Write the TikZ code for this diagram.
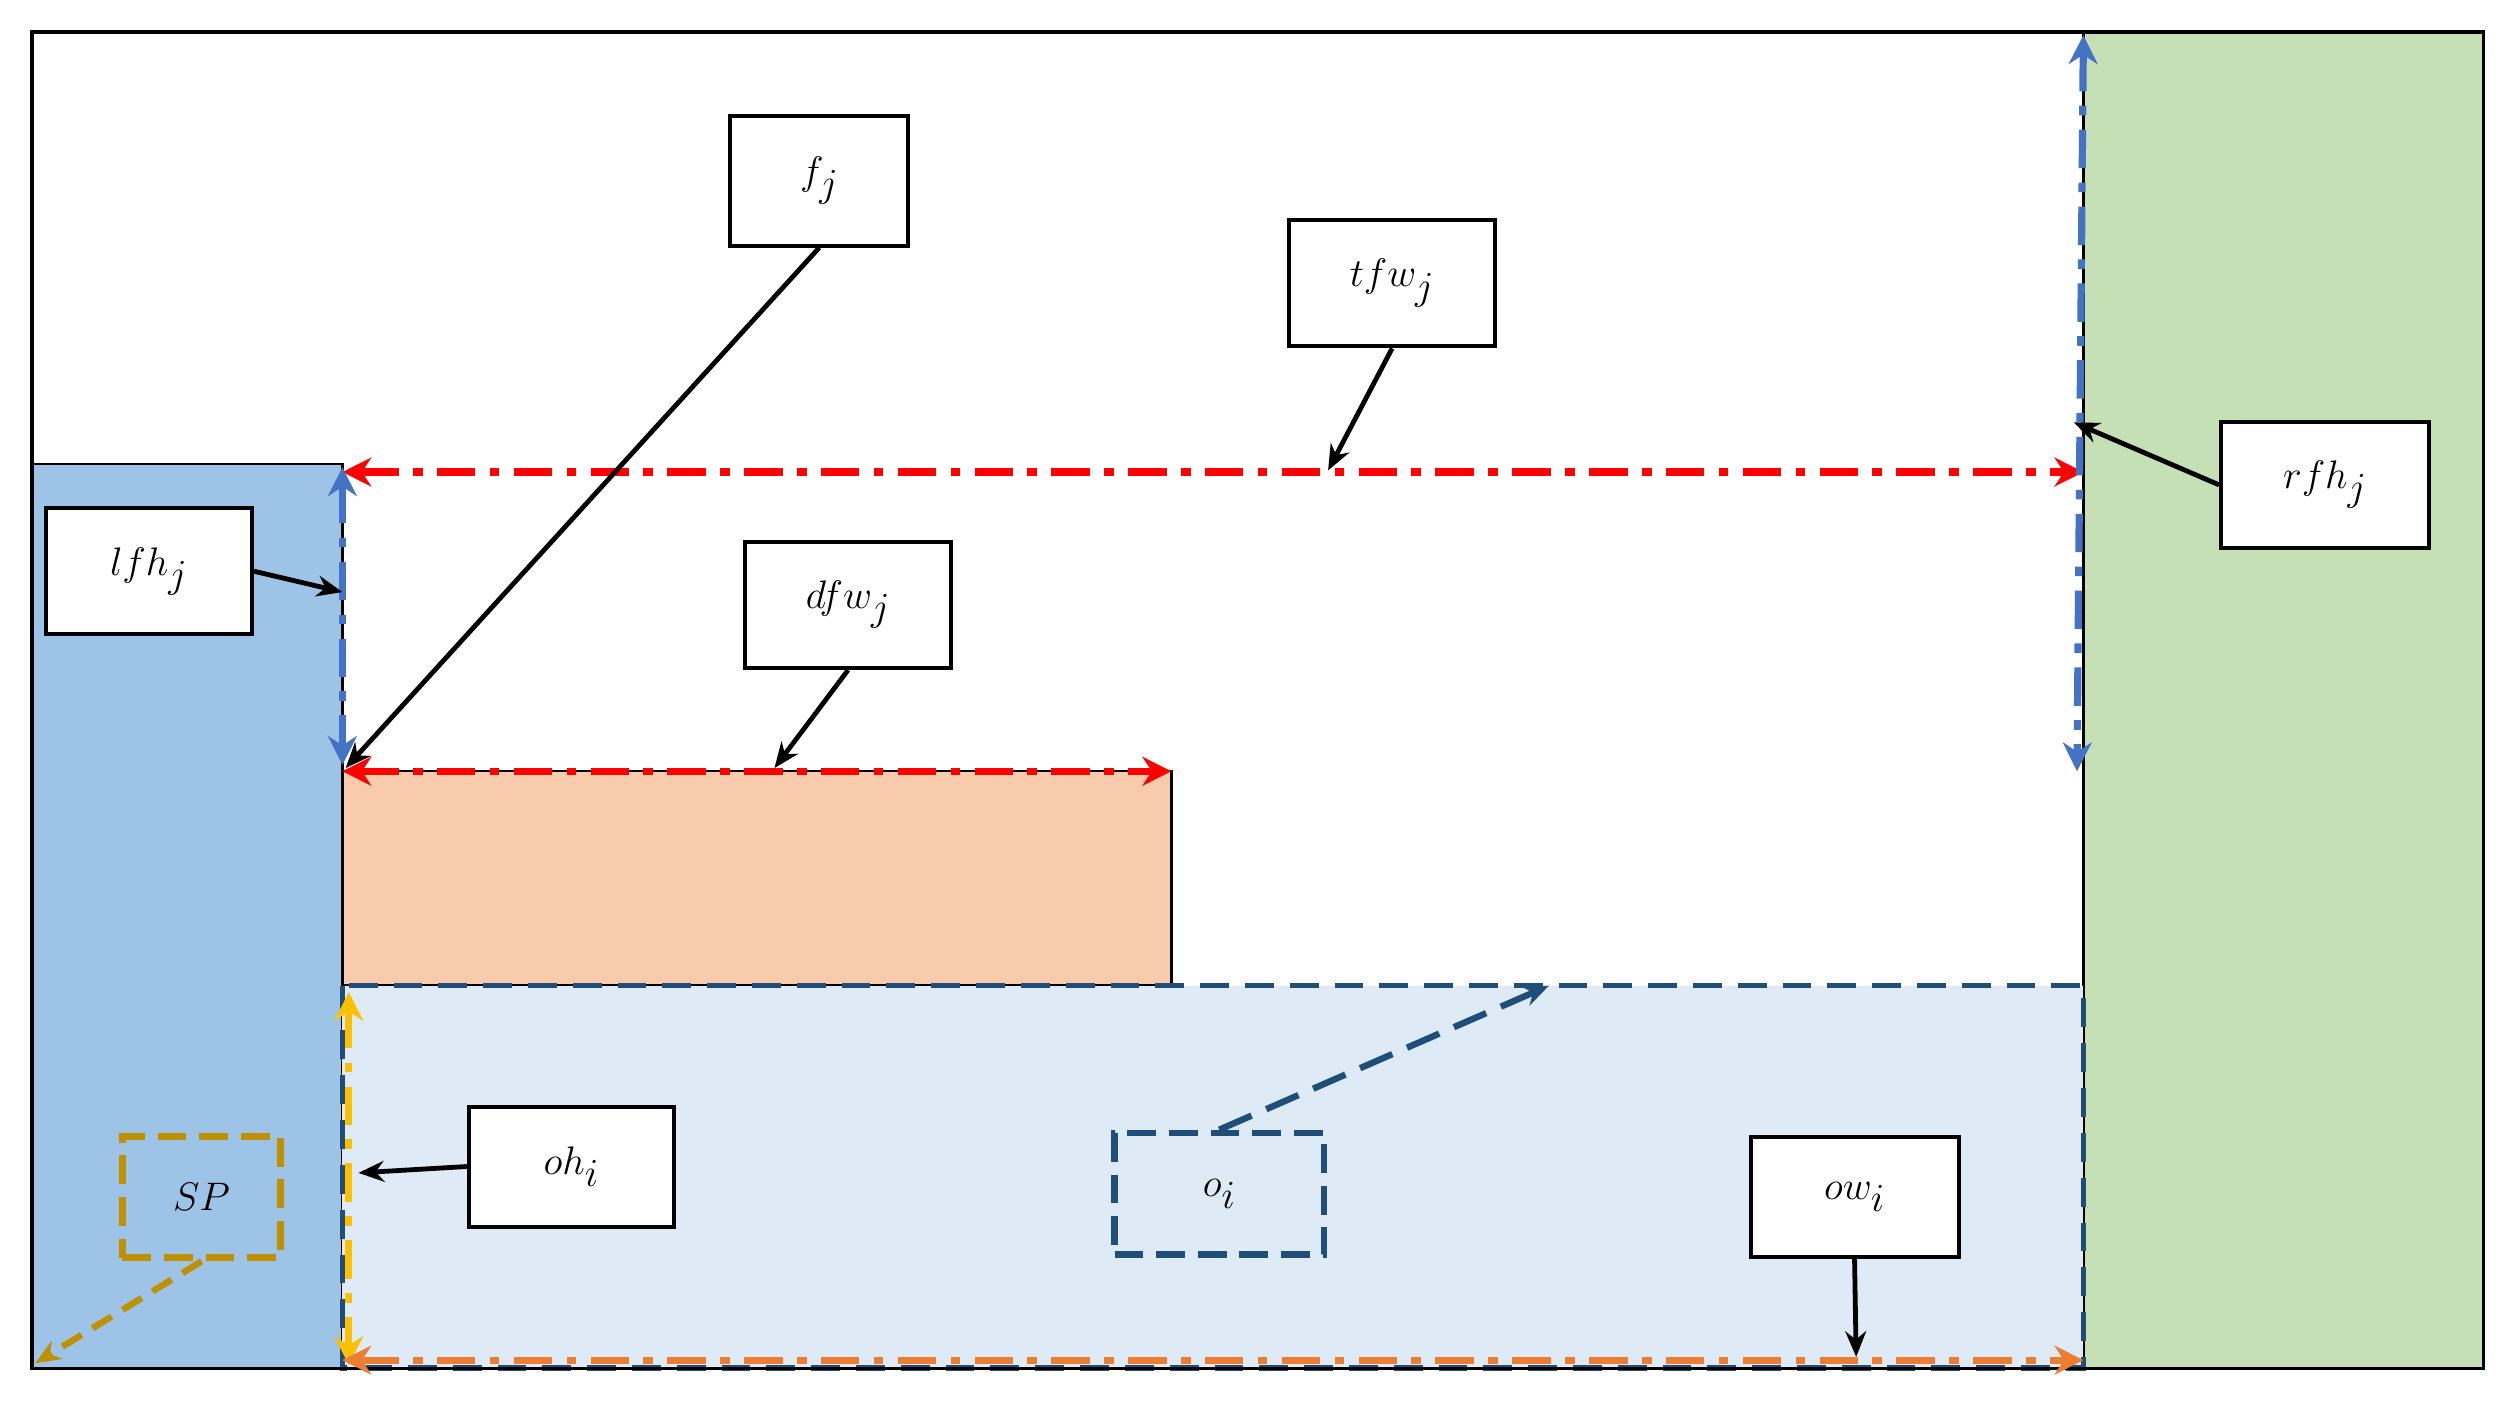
\documentclass[tikz,border=0pt]{standalone}
\usetikzlibrary{arrows.meta}
\definecolor{lblue}{HTML}{9DC3E6}
\definecolor{lgreen}{HTML}{C5E0B4}
\definecolor{lorange}{HTML}{F8CBAD}
\definecolor{pblue}{HTML}{DEEBF7}
\definecolor{dblue}{HTML}{1F4E79}
\definecolor{mblue}{HTML}{4472C4}
\definecolor{ored}{HTML}{FF0000}
\definecolor{yel}{HTML}{FFC000}
\definecolor{orng}{HTML}{ED7D31}
\definecolor{gold}{HTML}{BF9000}
\tikzset{
  lbl/.style={draw=black, line width=2.5pt, fill=white, inner sep=0pt, font=\fontsize{34}{40}\selectfont},
  ptr/.style={draw=black, line width=3pt, -{Stealth[length=16pt,width=13pt]}},
  dim/.style={line width=4.5pt, dash pattern=on 24pt off 9pt on 6pt off 9pt, {Stealth[length=18pt,width=18pt]}-{Stealth[length=18pt,width=18pt]}},
}
\begin{document}
\begin{tikzpicture}[x=1pt,y=-1pt]
\useasboundingbox (0,0) rectangle (1568,880);
\fill[white] (0,0) rectangle (1568,880);
% regions
\fill[lblue] (20,290) rectangle (214,855);
\draw[line width=1.5pt] (20,290) -- (214,290) -- (214,855);
\fill[lgreen] (1302,20) rectangle (1552,855);
\draw[line width=1.5pt] (1302,20) -- (1302,855);
\fill[lorange] (214,482) rectangle (732,616);
\draw[line width=1.5pt] (214,482) rectangle (732,616);
\fill[pblue] (214,616) rectangle (1302,855);
\draw[dblue, line width=3.5pt, dash pattern=on 18pt off 10pt] (214,616) rectangle (1302,855);
\draw[line width=2pt] (20,20) rectangle (1552,855);
% dimension arrows
\coordinate (t1) at (214,295); \coordinate (t2) at (1302,295);
\draw[dim, ored] (t1) -- (t2);
\coordinate (d1) at (214,482); \coordinate (d2) at (732,482);
\draw[dim, ored] (d1) -- (d2);
\coordinate (l1) at (214,292); \coordinate (l2) at (214,478);
\draw[dim, mblue] (l1) -- (l2);
\coordinate (r1) at (1302,22); \coordinate (r2) at (1298,482);
\draw[dim, mblue] (r1) -- (r2);
\coordinate (h1) at (218,620); \coordinate (h2) at (218,853);
\draw[dim, yel] (h1) -- (h2);
\coordinate (w1) at (214,850); \coordinate (w2) at (1302,850);
\draw[dim, orng] (w1) -- (w2);
% labels
\node[lbl, minimum width=111pt, minimum height=81pt] (fj) at (512,113) {$f_j$};
\node[lbl, minimum width=129pt, minimum height=79pt] (tfw) at (870,177) {$tfw_j$};
\node[lbl, minimum width=130pt, minimum height=79pt] (rfh) at (1453,303) {$rfh_j$};
\node[lbl, minimum width=129pt, minimum height=79pt] (lfh) at (93,357) {$lfh_j$};
\node[lbl, minimum width=129pt, minimum height=79pt] (dfw) at (530,378) {$dfw_j$};
\node[lbl, minimum width=128pt, minimum height=75pt] (oh) at (357,729) {$oh_i$};
\node[lbl, minimum width=130pt, minimum height=75pt] (ow) at (1159,748) {$ow_i$};
\node[lbl, draw=dblue, fill=pblue, line width=4pt, dash pattern=on 18pt off 8pt, minimum width=131pt, minimum height=76pt] (oi) at (762,746) {$o_i$};
\node[lbl, draw=gold, fill=lblue, line width=4.5pt, dash pattern=on 18pt off 8pt, minimum width=99pt, minimum height=76pt] (sp) at (126,748) {$SP$};
% pointers
\coordinate (pf) at (216,480);
\draw[ptr] (fj.south) -- (pf);
\coordinate (pt) at (830,294);
\draw[ptr] (tfw.south) -- (pt);
\coordinate (pr) at (1296,264);
\draw[ptr] (rfh.west) -- (pr);
\coordinate (pl) at (214,370);
\draw[ptr] (lfh.east) -- (pl);
\coordinate (pd) at (484,480);
\draw[ptr] (dfw.south) -- (pd);
\coordinate (po) at (224,733);
\draw[ptr] (oh.west) -- (po);
\coordinate (pw) at (1160,848);
\draw[ptr] (ow.south) -- (pw);
\coordinate (pi) at (968,616);
\draw[ptr, draw=dblue, line width=4pt, dash pattern=on 22pt off 10pt] (oi.north) -- (pi);
\coordinate (ps) at (22,852);
\draw[ptr, draw=gold, line width=4pt, dash pattern=on 14pt off 8pt] (sp.south) -- (ps);
\end{tikzpicture}
\end{document}
